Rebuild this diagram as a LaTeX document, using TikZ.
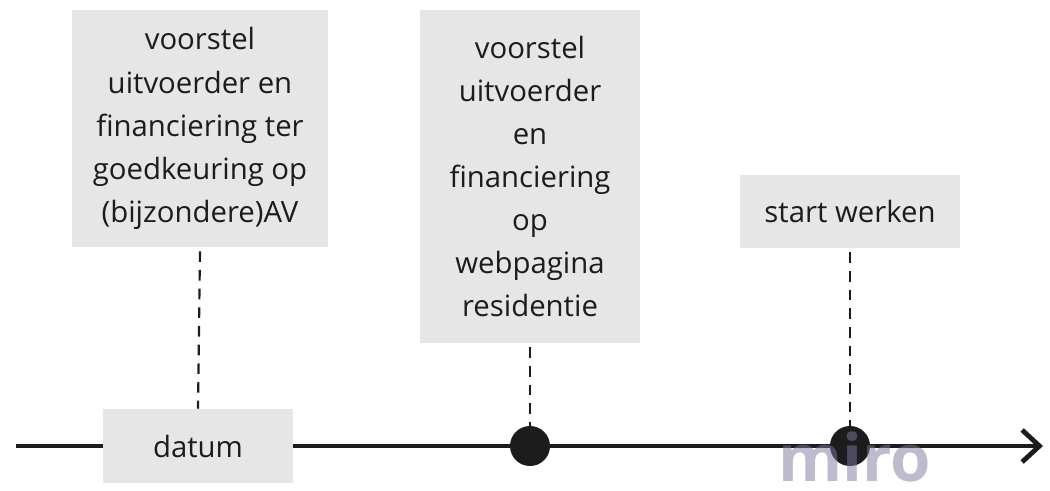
\documentclass[tikz,border=0pt]{standalone}
\usepackage{fontspec}
\setmainfont{Open Sans}
\usetikzlibrary{arrows.meta}
\definecolor{boxgray}{HTML}{E6E6E6}
\definecolor{ink}{HTML}{1C1C1C}
\definecolor{wmark}{RGB}{122,122,158}
\tikzset{
  card/.style={fill=boxgray, draw=none, inner sep=0pt, align=center, text=ink,
    font=\fontsize{22}{32.3}\selectfont},
  tick/.style={draw=ink, line width=1.6pt, dash pattern=on 8pt off 6pt},
  event/.style={circle, fill=ink, draw=none, minimum size=30pt, inner sep=0pt},
  axis/.style={draw=ink, line width=3.6pt},
}
\begin{document}
\begin{tikzpicture}[x=0.75pt,y=-0.75pt]
\useasboundingbox (0,0) rectangle (1050,490);
% timeline
\coordinate (start) at (16,446);
\coordinate (end) at (1043,446);
\draw[axis, -{Straight Barb[length=13pt,width=24pt,line width=3.6pt]}] (start) -- (end);
% cards
\node[card, minimum width=192pt, minimum height=177.75pt] (b1) at (200,128.5)
  {voorstel\\uitvoerder en\\financiering ter\\goedkeuring op\\(bijzondere)AV};
\node[card, minimum width=165pt, minimum height=249.75pt] (b2) at (530,176.5)
  {voorstel\\uitvoerder\\en\\financiering\\op\\webpagina\\residentie};
\node[card, minimum width=165pt, minimum height=54.75pt] (b3) at (850,211.5)
  {start werken};
\node[card, minimum width=142.5pt, minimum height=55.5pt] (d) at (198,446) {datum};
% events
\node[event] (p2) at (530,446) {};
\node[event] (p3) at (850,446) {};
% connectors
\draw[tick] ([yshift=-3pt]b1.south) -- (d.north);
\draw[tick] ([yshift=-3pt]b2.south) -- (p2.north);
\draw[tick] ([yshift=-3pt]b3.south) -- (p3.north);
% watermark
\node[text=wmark, opacity=0.5, anchor=base, inner sep=0pt,
  font=\fontsize{49}{49}\bfseries\selectfont] (wm) at (855,481) {miro};
\end{tikzpicture}
\end{document}
